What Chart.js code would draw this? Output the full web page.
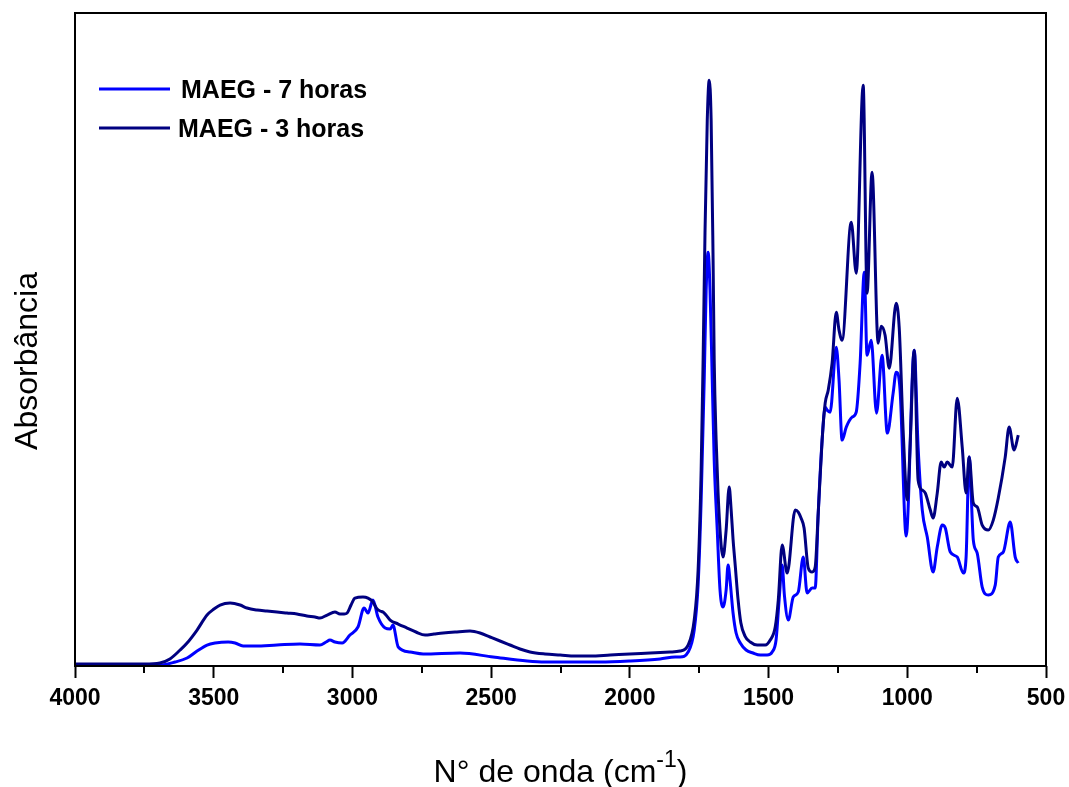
<!DOCTYPE html>
<html><head><meta charset="utf-8">
<script src="https://cdn.jsdelivr.net/npm/chart.js@4.4.1/dist/chart.umd.min.js"></script>
<style>html,body{margin:0;padding:0;background:#fff;} canvas{display:block;}</style>
</head><body>
<canvas id="c" width="1069" height="787"></canvas>
<script>
const seriesLabels = ['MAEG - 7 horas', 'MAEG - 3 horas'];
const seriesColors = ['#0000ff', '#000080'];
const xTickValues = [4000, 3500, 3000, 2500, 2000, 1500, 1000, 500];
const xTitle = 'N° de onda (cm';
const xTitleSup = '-1';
const yTitle = 'Absorbância';

// MAEG - 7 horas
const wn7h = [4000,3840,3694,3639,3596,3560,3524,3495,3448,3423,3394,3351,3272,3189,3117,3095,3081,3063,3037,3009,2980,2958,2944,2926,2908,2882,2864,2854,2835,2792,2745,2612,2493,2370,2306,2197,2107,2000,1891,1837,1819,1790,1768,1754,1743,1732,1725,1718,1711,1703,1696,1685,1675,1664,1653,1646,1639,1628,1617,1602,1581,1556,1530,1505,1487,1473,1462,1451,1443,1429,1411,1393,1375,1361,1343,1332,1321,1307,1296,1289,1278,1256,1246,1235,1220,1199,1184,1170,1155,1145,1130,1111,1091,1072,1051,1040,1026,1004,975,961,946,928,907,892,874,863,845,820,798,788,777,762,748,730,708,683,672,654,629,611,600];
const abs7h = [0.0015,0.0015,0.0015,0.006,0.012,0.0225,0.0315,0.0345,0.036,0.0345,0.03,0.03,0.0315,0.033,0.0315,0.036,0.039,0.036,0.0345,0.0465,0.0585,0.087,0.0795,0.099,0.0735,0.057,0.0555,0.0615,0.0285,0.021,0.018,0.0195,0.0135,0.0075,0.006,0.006,0.006,0.0075,0.0105,0.0135,0.0135,0.021,0.054,0.1215,0.249,0.429,0.564,0.621,0.564,0.429,0.309,0.204,0.114,0.0885,0.114,0.1515,0.129,0.0795,0.0495,0.0345,0.024,0.0195,0.0165,0.0165,0.021,0.039,0.099,0.1515,0.1065,0.069,0.1035,0.111,0.1635,0.1095,0.117,0.117,0.2295,0.339,0.3885,0.384,0.381,0.4785,0.429,0.339,0.3585,0.3735,0.381,0.4545,0.591,0.4665,0.489,0.3795,0.4665,0.3495,0.4095,0.441,0.414,0.195,0.474,0.3285,0.234,0.1935,0.141,0.1785,0.2115,0.207,0.171,0.1635,0.1395,0.1635,0.3135,0.189,0.1695,0.1185,0.1065,0.1215,0.1635,0.171,0.216,0.1635,0.1545];

// MAEG - 3 horas
const wn3h = [4000,3840,3750,3694,3658,3621,3596,3560,3524,3499,3477,3441,3405,3380,3344,3308,3272,3236,3200,3164,3135,3117,3091,3063,3045,3030,3019,3005,2991,2962,2944,2929,2911,2900,2890,2879,2864,2835,2803,2771,2738,2706,2673,2630,2576,2540,2504,2468,2432,2396,2360,2306,2251,2197,2143,2071,2000,1927,1855,1819,1790,1768,1754,1743,1736,1729,1721,1714,1707,1700,1696,1689,1682,1671,1664,1653,1642,1635,1628,1620,1610,1600,1585,1566,1541,1512,1494,1476,1465,1451,1433,1404,1393,1383,1372,1357,1343,1332,1321,1307,1296,1285,1271,1256,1246,1235,1202,1184,1159,1145,1127,1105,1094,1080,1065,1040,1029,1015,1000,990,975,961,946,935,917,907,892,878,867,856,838,820,802,788,777,762,748,730,708,690,672,647,633,615,600];
const abs3h = [0.003,0.003,0.003,0.0045,0.0105,0.024,0.0345,0.054,0.0765,0.0855,0.0915,0.0945,0.0915,0.087,0.084,0.0825,0.081,0.0795,0.078,0.075,0.0735,0.072,0.0765,0.081,0.078,0.078,0.0795,0.0915,0.102,0.1035,0.102,0.0975,0.0855,0.0825,0.081,0.0765,0.069,0.063,0.057,0.051,0.0465,0.048,0.0495,0.051,0.0525,0.0495,0.0435,0.0375,0.0315,0.0255,0.021,0.018,0.0165,0.015,0.015,0.0165,0.018,0.0195,0.021,0.0225,0.0315,0.069,0.144,0.294,0.459,0.654,0.819,0.879,0.819,0.609,0.459,0.339,0.2595,0.1815,0.1635,0.204,0.2685,0.235,0.19,0.15,0.1,0.065,0.045,0.036,0.0315,0.0315,0.039,0.0585,0.099,0.1815,0.1395,0.234,0.231,0.222,0.207,0.147,0.141,0.1485,0.2295,0.339,0.3945,0.414,0.4545,0.531,0.504,0.489,0.666,0.5895,0.8715,0.5595,0.741,0.4845,0.51,0.4965,0.447,0.5445,0.507,0.354,0.249,0.3285,0.474,0.279,0.264,0.2595,0.234,0.222,0.2595,0.306,0.2985,0.306,0.2985,0.402,0.3285,0.2595,0.3135,0.2445,0.2385,0.2115,0.204,0.219,0.252,0.3135,0.3585,0.324,0.3465];

const FONT = '"Liberation Sans", Arial, Helvetica, sans-serif';
const toPoints = (xs, ys) => xs.map((x, i) => ({x: x, y: ys[i]}));

const framePlugin = {
  id: 'frame',
  afterDraw(chart) {
    const ctx = chart.ctx, a = chart.chartArea, xs = chart.scales.x;
    ctx.save();
    ctx.strokeStyle = '#000';
    ctx.lineWidth = 2;
    ctx.strokeRect(a.left, a.top, a.right - a.left, a.bottom - a.top);
    xs.ticks.forEach(t => {
      if (t.value % 500 !== 0) {
        const px = Math.round(xs.getPixelForValue(t.value));
        ctx.beginPath(); ctx.moveTo(px, a.bottom); ctx.lineTo(px, a.bottom + 7); ctx.stroke();
      }
    });
    // axis titles
    ctx.fillStyle = '#000';
    ctx.textBaseline = 'alphabetic';
    ctx.font = '32px ' + FONT;
    const w1 = ctx.measureText(xTitle).width;
    const w3 = ctx.measureText(')').width;
    ctx.font = '23px ' + FONT;
    const w2 = ctx.measureText(xTitleSup).width;
    const cx = (a.left + a.right) / 2;
    let x0 = cx - (w1 + w2 + w3) / 2;
    ctx.textAlign = 'left';
    ctx.font = '32px ' + FONT;
    ctx.fillText(xTitle, x0, 782);
    ctx.font = '23px ' + FONT;
    ctx.fillText(xTitleSup, x0 + w1, 767);
    ctx.font = '32px ' + FONT;
    ctx.fillText(')', x0 + w1 + w2, 782);
    ctx.save();
    ctx.translate(37, 361);
    ctx.rotate(-Math.PI / 2);
    ctx.textAlign = 'center';
    ctx.fillText(yTitle, 0, 0);
    ctx.restore();
    // legend
    const rows = [{y: 89, tx: 181}, {y: 128, tx: 178}];
    chart.data.datasets.forEach((ds, i) => {
      const r = rows[i];
      ctx.strokeStyle = ds.borderColor;
      ctx.lineWidth = 3;
      ctx.beginPath(); ctx.moveTo(99, r.y); ctx.lineTo(170, r.y); ctx.stroke();
      ctx.fillStyle = '#000';
      ctx.font = 'bold 25px ' + FONT;
      ctx.textAlign = 'left';
      ctx.textBaseline = 'middle';
      ctx.fillText(ds.label, r.tx, r.y + 2);
    });
    ctx.restore();
  }
};

new Chart(document.getElementById('c'), {
  type: 'line',
  data: {
    datasets: [
      {label: seriesLabels[0], data: toPoints(wn7h, abs7h), borderColor: seriesColors[0], order: 1},
      {label: seriesLabels[1], data: toPoints(wn3h, abs3h), borderColor: seriesColors[1], order: 0}
    ]
  },
  options: {
    responsive: false,
    animation: false,
    layout: {padding: {top: 13, right: 23, left: 0, bottom: 0}},
    elements: {
      point: {radius: 0},
      line: {borderWidth: 3, cubicInterpolationMode: 'monotone', fill: false}
    },
    plugins: {legend: {display: false}, tooltip: {enabled: false}},
    scales: {
      x: {
        type: 'linear', reverse: true, min: 500, max: 4000,
        afterFit: s => { s.height = 121; },
        afterBuildTicks: s => {
          const t = [];
          for (let v = 500; v <= 4000; v += 250) t.push({value: v});
          s.ticks = t;
        },
        ticks: {
          autoSkip: false, maxRotation: 0, padding: 7, color: '#000',
          font: {family: FONT, size: 23, weight: 'bold'},
          callback: v => (xTickValues.includes(v) ? String(v) : '')
        },
        grid: {
          drawOnChartArea: false, drawTicks: true, tickLength: 12, tickWidth: 2,
          tickColor: c => (c.tick && c.tick.value % 500 === 0 ? '#000' : 'rgba(0,0,0,0)')
        },
        border: {display: false}
      },
      y: {
        min: 0, max: 0.98,
        afterFit: s => { s.width = 75; },
        ticks: {display: false},
        grid: {display: false},
        border: {display: false}
      }
    }
  },
  plugins: [framePlugin]
});
</script>
</body></html>
